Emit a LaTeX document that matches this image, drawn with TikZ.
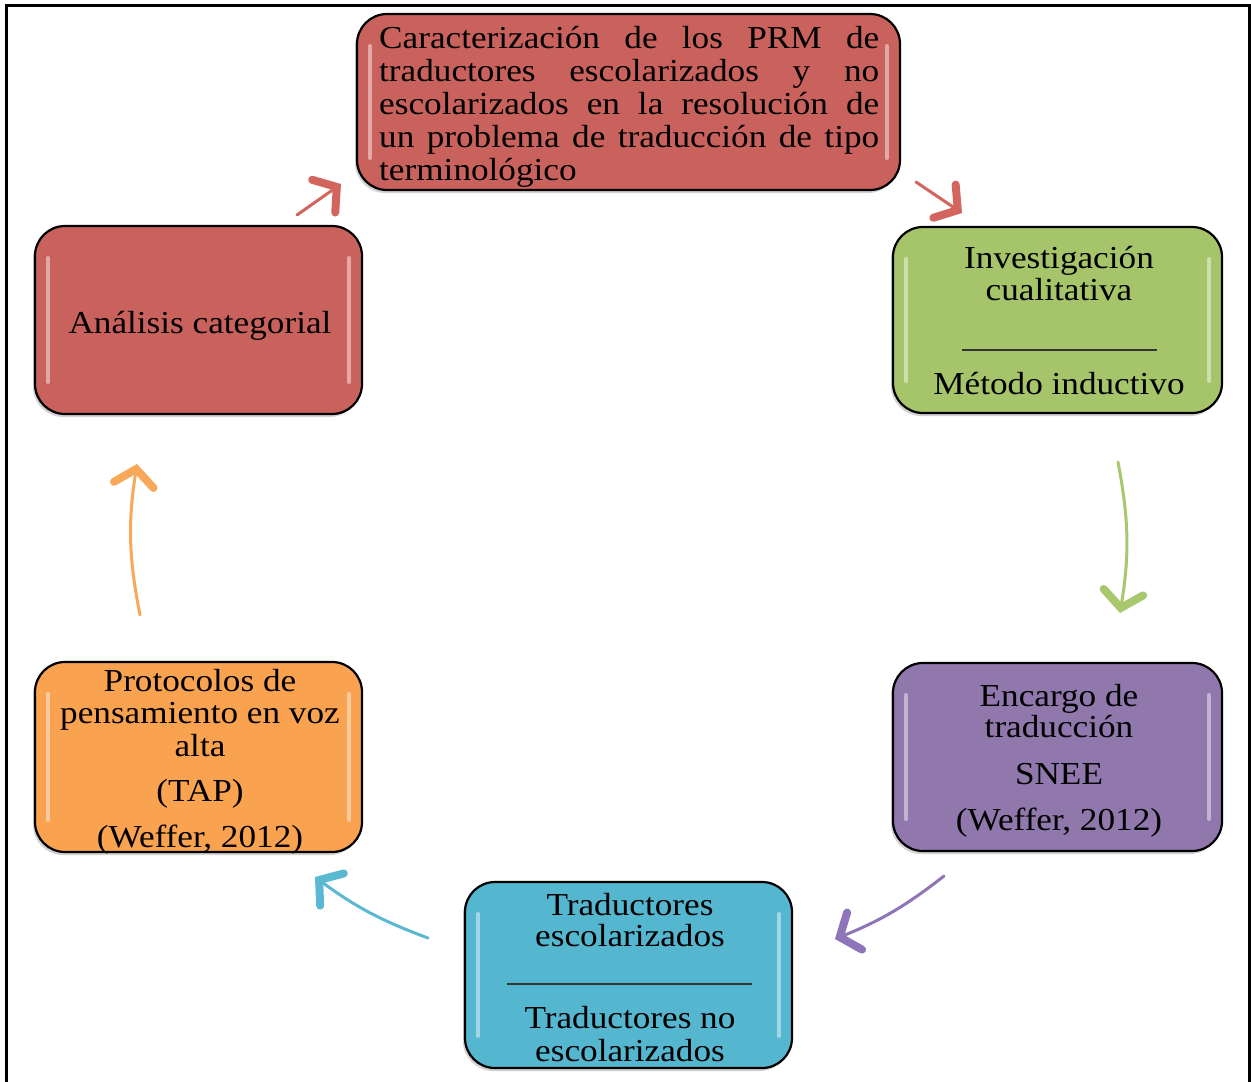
\documentclass[tikz,border=0pt]{standalone}
\usepackage{fontspec}
\setmainfont[FakeStretch=1.1]{Liberation Serif}
\usetikzlibrary{arrows.meta,shadows}

\definecolor{boxred}{HTML}{C9625C}
\definecolor{boxgreen}{HTML}{A6C46A}
\definecolor{boxpurple}{HTML}{9078AD}
\definecolor{boxcyan}{HTML}{55B6CF}
\definecolor{boxorange}{HTML}{F9A24F}
\definecolor{arrred}{HTML}{D2665F}
\definecolor{arrgreen}{HTML}{A9C86E}
\definecolor{arrpurple}{HTML}{8E74B8}
\definecolor{arrcyan}{HTML}{5BB8D2}
\definecolor{arrorange}{HTML}{F9A85A}

\tikzset{
  stagebox/.style={draw=black, line width=2.2pt, rounded corners=30pt,
    drop shadow={shadow xshift=-2pt, shadow yshift=-3pt, opacity=0.35}},
  gloss/.style={draw=white, line width=4pt, line cap=round, opacity=0.45},
  txt/.style={anchor=base, inner sep=0pt, font=\fontsize{32}{33}\selectfont},
  sepline/.style={draw=black!80, line width=1.3pt},
  flow/.style={line width=3pt, line cap=round,
    -{Straight Barb[length=16pt, width=40pt, line width=8pt, line cap=round]}},
}

\newcommand{\stage}[6]{% name, x1, y1, x2, y2, colour
  \path[stagebox, fill=#6] (#2,#3) rectangle (#4,#5);
  \coordinate (#1) at ({(#2+#4)/2},{(#3+#5)/2});
  \draw[gloss] ({#2+13},{#3+32}) -- ({#2+13},{#5-32});
  \draw[gloss] ({#4-13},{#3+32}) -- ({#4-13},{#5-32});
}

\begin{document}
\begin{tikzpicture}[x=1pt,y=-1pt]
\useasboundingbox (0,0) rectangle (1251,1082);
\fill[white] (0,0) rectangle (1251,1082);
% outer frame
\draw[line width=3pt] (6,1090) -- (6,5) -- (1249,5) -- (1249,1090);

% stages
\stage{carac}{357}{14}{900}{190}{boxred}
\stage{invest}{893}{227}{1222}{413}{boxgreen}
\stage{encargo}{893}{663}{1222}{851}{boxpurple}
\stage{traduct}{465}{882}{792}{1068}{boxcyan}
\stage{protoc}{35}{662}{362}{852}{boxorange}
\stage{analisis}{35}{226}{362}{414}{boxred}

% top box: justified paragraph
\node[txt, anchor=base west] (c1) at (379,48) {\makebox[500pt][s]{Caracterización de los PRM de}};
\node[txt, anchor=base west] (c2) at (379,81) {\makebox[500pt][s]{traductores escolarizados y no}};
\node[txt, anchor=base west] (c3) at (379,114) {\makebox[500pt][s]{escolarizados en la resolución de}};
\node[txt, anchor=base west] (c4) at (379,147) {\makebox[500pt][s]{un problema de traducción de tipo}};
\node[txt, anchor=base west] (c5) at (379,180) {terminológico};

% green box
\node[txt] (g1) at (1059,268) {Investigación};
\node[txt] (g2) at (1059,300) {cualitativa};
\coordinate (gl) at (962,350);
\coordinate (gr) at (1157,350);
\draw[sepline] (gl) -- (gr);
\node[txt] (g3) at (1059,394) {Método inductivo};

% purple box
\node[txt] (p1) at (1059,706) {Encargo de};
\node[txt] (p2) at (1059,737) {traducción};
\node[txt] (p3) at (1059,784) {SNEE};
\node[txt] (p4) at (1059,830) {(Weffer, 2012)};

% cyan box
\node[txt] (t1) at (630,915) {Traductores};
\node[txt] (t2) at (630,946) {escolarizados};
\coordinate (tl) at (507,984);
\coordinate (tr) at (752,984);
\draw[sepline] (tl) -- (tr);
\node[txt] (t3) at (630,1028) {Traductores no};
\node[txt] (t4) at (630,1061) {escolarizados};

% orange box
\node[txt] (o1) at (200,691) {Protocolos de};
\node[txt] (o2) at (200,723) {pensamiento en voz};
\node[txt] (o3) at (200,756) {alta};
\node[txt] (o4) at (200,801) {(TAP)};
\node[txt] (o5) at (200,847) {(Weffer, 2012)};

% left red box
\node[txt] (a1) at (200,333) {Análisis categorial};

% connectors between the stages
\coordinate (a-s) at (297,215);  \coordinate (a-e) at (341,184);
\coordinate (b-s) at (916,182);  \coordinate (b-e) at (962,213);
\coordinate (c-s) at (1118,462); \coordinate (c-e) at (1120,613);
\coordinate (d-s) at (944,876);  \coordinate (d-e) at (835,939);
\coordinate (e-s) at (428,938);  \coordinate (e-e) at (315,877);
\coordinate (f-s) at (140,615);  \coordinate (f-e) at (137,464);

\draw[flow, arrred] (a-s) -- (a-e);
\draw[flow, arrred] (b-s) -- (b-e);
\draw[flow, arrgreen] (c-s) to[bend left=10] (c-e);
\draw[flow, arrpurple] (d-s) to[bend left=8] (d-e);
\draw[flow, arrcyan] (e-s) to[bend left=8] (e-e);
\draw[flow, arrorange] (f-s) to[bend left=10] (f-e);
\end{tikzpicture}
\end{document}
